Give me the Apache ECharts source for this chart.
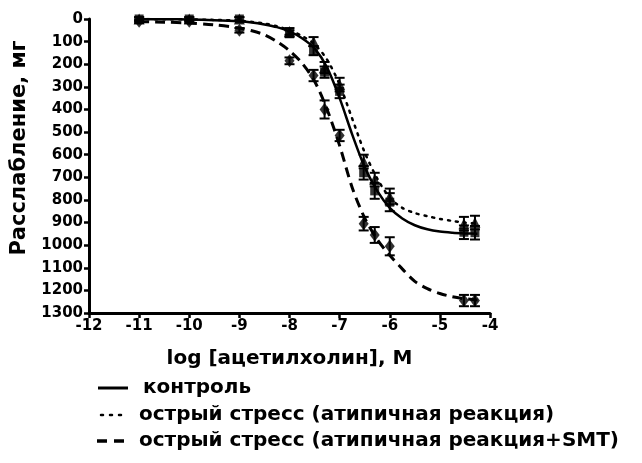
<!DOCTYPE html>
<html><head><meta charset="utf-8">
<script src="https://cdn.jsdelivr.net/npm/echarts@6/dist/echarts.min.js"></script>
<style>html,body{margin:0;padding:0;background:#fff}#c{width:642px;height:463px}</style>
</head><body><div id="c"></div>
<script>
// measured points
const pointX = [-11, -10, -9, -8, -7.52, -7.3, -7, -6.52, -6.3, -6, -4.52, -4.3];
const controlY = [0, 0, 0, 65, 140, 235, 320, 680, 760, 810, 943, 945];
const controlErr = [8, 8, 8, 15, 20, 25, 30, 30, 35, 40, 30, 30];
const stressY = [0, 0, 0, 55, 100, 215, 290, 630, 710, 785, 905, 900];
const stressErr = [8, 8, 8, 15, 20, 25, 30, 30, 30, 35, 30, 30];
const smtY = [10, 10, 50, 185, 250, 400, 515, 905, 955, 1005, 1245, 1245];
const smtErr = [8, 8, 10, 15, 25, 40, 25, 30, 35, 40, 25, 25];

// fitted curves
const curveX = [-11, -10.5, -10, -9.5, -9, -8.75, -8.5, -8.25, -8, -7.75, -7.5, -7.25, -7, -6.75, -6.5, -6.25, -6, -5.75, -5.5, -5.25, -5, -4.75, -4.5, -4.25];
const controlCurve = [0, 1, 2, 5, 10, 15, 24, 36, 55, 85, 130, 215, 350, 510, 655, 760, 835, 882, 912, 930, 940, 945, 948, 950];
const stressCurve = [0, 1, 2, 4, 8, 13, 20, 32, 50, 75, 112, 180, 290, 440, 590, 705, 790, 835, 858, 872, 884, 893, 900, 905];
const smtCurve = [12, 14, 18, 26, 40, 52, 70, 100, 140, 195, 275, 400, 560, 745, 880, 975, 1045, 1105, 1160, 1192, 1214, 1228, 1237, 1242];

const xTicks = [-12, -11, -10, -9, -8, -7, -6, -5, -4];
const yTicks = [0, 100, 200, 300, 400, 500, 600, 700, 800, 900, 1000, 1100, 1200, 1300];

const legendNames = ['контроль', 'острый стресс (атипичная реакция)', 'острый стресс (атипичная реакция+SMT)'];
const xTitle = 'log [ацетилхолин], M';
const yTitle = 'Расслабление, мг';

const FONT = '"DejaVu Sans", sans-serif';
const zip = (xs, ys) => xs.map((x, i) => [x, ys[i]]);
const errData = (ys, es) => pointX.map((x, i) => [x, ys[i] - es[i], ys[i] + es[i]]);

function errRender(params, api) {
  const x = api.value(0);
  const lo = api.coord([x, api.value(1)]);
  const hi = api.coord([x, api.value(2)]);
  const w = 5;
  const st = { stroke: '#000', lineWidth: 2 };
  return { type: 'group', children: [
    { type: 'line', shape: { x1: lo[0], y1: lo[1], x2: hi[0], y2: hi[1] }, style: st },
    { type: 'line', shape: { x1: lo[0] - w, y1: lo[1], x2: lo[0] + w, y2: lo[1] }, style: st },
    { type: 'line', shape: { x1: hi[0] - w, y1: hi[1], x2: hi[0] + w, y2: hi[1] }, style: st }
  ]};
}

const chart = echarts.init(document.getElementById('c'));
const axisText = { color: '#000', fontFamily: FONT, fontWeight: 'bold', fontSize: 15 };
const curveLine = (ys, ls) => ({ type: 'line', data: zip(curveX, ys), smooth: 0.3, symbol: 'none', lineStyle: ls, z: 2 });
chart.setOption({
  animation: false,
  grid: { left: 89, right: 152, top: 19, bottom: 150, containLabel: false },
  xAxis: {
    type: 'value', min: -12, max: -4, interval: 1,
    name: xTitle, nameLocation: 'middle', nameGap: 36,
    nameTextStyle: { color: '#000', fontFamily: FONT, fontWeight: 'bold', fontSize: 20 },
    axisLine: { onZero: false, lineStyle: { color: '#000', width: 3 } },
    axisTick: { show: true, inside: false, length: 5, lineStyle: { color: '#000', width: 2.5 } },
    axisLabel: Object.assign({ margin: 6, formatter: v => xTicks.includes(v) ? String(v) : '' }, axisText),
    splitLine: { show: false }
  },
  yAxis: {
    type: 'value', min: 0, max: 1300, interval: 100, inverse: true,
    axisLine: { show: true, onZero: false, lineStyle: { color: '#000', width: 3 } },
    axisTick: { show: true, inside: false, length: 5, lineStyle: { color: '#000', width: 2.5 } },
    axisLabel: Object.assign({ margin: 6, formatter: v => yTicks.includes(v) ? String(v) : '' }, axisText),
    splitLine: { show: false }
  },
  series: [
    curveLine(controlCurve, { color: '#000', width: 2.5, type: 'solid' }),
    curveLine(stressCurve, { color: '#000', width: 2.5, type: [2, 6], cap: 'round' }),
    curveLine(smtCurve, { color: '#000', width: 3, type: [10, 6] }),
    { type: 'custom', renderItem: errRender, data: errData(controlY, controlErr), encode: { x: 0, y: [1, 2] }, z: 3 },
    { type: 'custom', renderItem: errRender, data: errData(stressY, stressErr), encode: { x: 0, y: [1, 2] }, z: 3 },
    { type: 'custom', renderItem: errRender, data: errData(smtY, smtErr), encode: { x: 0, y: [1, 2] }, z: 3 },
    { type: 'scatter', data: zip(pointX, controlY), symbol: 'rect', symbolSize: 9, itemStyle: { color: '#000' }, z: 4 },
    { type: 'scatter', data: zip(pointX, stressY), symbol: 'triangle', symbolSize: 11, itemStyle: { color: '#000' }, z: 4 },
    { type: 'scatter', data: zip(pointX, smtY), symbol: 'diamond', symbolSize: [10, 13], itemStyle: { color: '#000' }, z: 4 }
  ],
  graphic: [
    { type: 'text', x: 20, y: 148, rotation: Math.PI / 2,
      style: { text: yTitle, fill: '#000', font: 'bold 21px ' + FONT, align: 'center', verticalAlign: 'middle' } },
    { type: 'line', shape: { x1: 98, y1: 388, x2: 128, y2: 388 }, style: { stroke: '#000', lineWidth: 3 } },
    { type: 'line', shape: { x1: 101, y1: 415, x2: 124, y2: 415 }, style: { stroke: '#000', lineWidth: 2.5, lineDash: [2, 7], lineCap: 'round' } },
    { type: 'line', shape: { x1: 97, y1: 441, x2: 129, y2: 441 }, style: { stroke: '#000', lineWidth: 3.5, lineDash: [10, 7] } },
    { type: 'text', x: 143, y: 388, style: { text: legendNames[0], fill: '#000', font: 'bold 20px ' + FONT, verticalAlign: 'middle' } },
    { type: 'text', x: 139, y: 415, style: { text: legendNames[1], fill: '#000', font: 'bold 20px ' + FONT, verticalAlign: 'middle' } },
    { type: 'text', x: 139, y: 441, style: { text: legendNames[2], fill: '#000', font: 'bold 20px ' + FONT, verticalAlign: 'middle' } }
  ]
});
</script></body></html>
